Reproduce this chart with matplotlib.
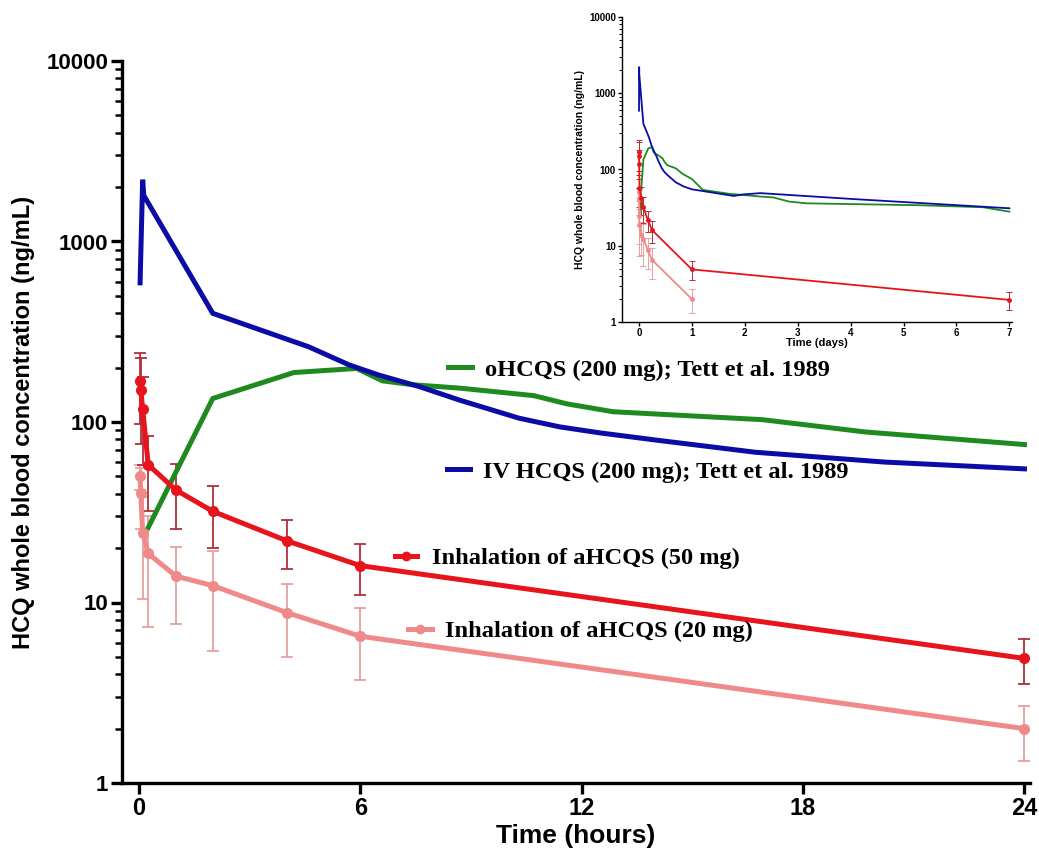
import numpy as np
import matplotlib
matplotlib.use("Agg")
import matplotlib.pyplot as plt
from matplotlib.lines import Line2D
from matplotlib.ticker import LogLocator, NullFormatter, FixedLocator

# ---------------- data (time in hours, concentration in ng/mL) ----------------
iv_t = [0.03, 0.1, 0.13, 2, 4.6, 5.7, 6.5, 7.6, 8.7, 10.3, 11.4, 12.5, 14.1, 16.7, 20.2, 24,
        43, 47, 55, 97, 168]
iv_c = [590, 2200, 1800, 400, 261, 207, 182, 157, 132, 105, 94, 87, 79, 68, 60, 55,
        45, 47, 49, 41, 31]

oral_t = [0.25, 2, 4.2, 5.9, 6.6, 7.4, 8.7, 10.7, 11.6, 12.85, 16.9, 19.7, 24,
          29, 41, 56, 61, 68, 76, 127, 156, 168]
oral_c = [26, 135, 188, 198, 169, 161, 154, 140, 126, 114, 103, 88, 75,
          54, 48, 44, 43, 38, 36, 34, 32, 28]

inh50_t = [0.03, 0.05, 0.1, 0.25, 1, 2, 4, 6, 24, 168]
inh50_c = [169, 151, 118, 58, 42, 32, 22, 16, 4.9, 1.95]
inh50_sd = [72, 75, 60, 26, 16.5, 12, 6.7, 5, 1.35, 0.5]

inh20_t = [0.03, 0.05, 0.1, 0.25, 1, 2, 4, 6, 24]
inh20_c = [50, 40.5, 24.4, 18.7, 14, 12.4, 8.8, 6.5, 2.0]
inh20_sd = [8, 15, 14, 11.4, 6.4, 7, 3.8, 2.8, 0.67]

labels = ["oHCQS (200 mg); Tett et al. 1989",
          "IV HCQS (200 mg); Tett et al. 1989",
          "Inhalation of aHCQS (50 mg)",
          "Inhalation of aHCQS (20 mg)"]

main_xticks = [0, 6, 12, 18, 24]
inset_xticks = [0, 1, 2, 3, 4, 5, 6, 7]

# ---------------- style ----------------
C_IV = "#0b0ba6"
C_OR = "#1f8a1f"
C_50 = "#e8141c"
C_50E = "#b0303a"
C_20 = "#f08a8a"
C_20E = "#e8a0a0"

W, H = 1039, 855
fig = plt.figure(figsize=(W / 100, H / 100), dpi=100)

SANS = ["Liberation Sans", "DejaVu Sans"]
NARROW = ["Liberation Sans Narrow", "Liberation Sans", "DejaVu Sans"]
SERIF = ["Liberation Serif", "DejaVu Serif"]

def fx(px):
    return px / W

def fy(py):
    return 1 - py / H

# ---------------- main axes ----------------
ax = fig.add_axes([fx(122), fy(783), fx(1030) - fx(122), fy(61) - fy(783)])

def upto(t, c, tmax):
    t = np.asarray(t, float); c = np.asarray(c, float)
    m = t <= tmax
    return t[m], c[m]

t, c = upto(oral_t, oral_c, 24)
ax.plot(t, c, color=C_OR, lw=3.6, solid_joinstyle="miter", zorder=3)
t, c = upto(iv_t, iv_c, 24)
ax.plot(t, c, color=C_IV, lw=3.6, solid_joinstyle="miter", zorder=3)

t, c = upto(inh20_t, inh20_c, 24)
sd = np.asarray(inh20_sd)[:len(t)]
ax.errorbar(t, c, yerr=sd, fmt="none", ecolor=C_20E, elinewidth=1.3, capsize=4, capthick=1.3, zorder=2)
ax.plot(t, c, color=C_20, lw=3.6, marker="o", ms=7, zorder=4)

t, c = upto(inh50_t, inh50_c, 24)
sd = np.asarray(inh50_sd)[:len(t)]
ax.errorbar(t, c, yerr=sd, fmt="none", ecolor=C_50E, elinewidth=1.3, capsize=4, capthick=1.3, zorder=2)
ax.plot(t, c, color=C_50, lw=3.6, marker="o", ms=7, zorder=5)

ax.set_yscale("log")
ax.set_ylim(1, 10000)
ax.set_xlim(-0.46, 24.15)
ax.xaxis.set_major_locator(FixedLocator(main_xticks))
ax.set_xticklabels([str(v) for v in main_xticks], fontsize=17, fontweight="bold", family=NARROW)
ax.yaxis.set_minor_locator(LogLocator(base=10, subs=np.arange(2, 10), numticks=50))
ax.yaxis.set_minor_formatter(NullFormatter())
ax.set_yticks([1, 10, 100, 1000, 10000])
ax.set_yticklabels(["1", "10", "100", "1000", "10000"], fontsize=16, fontweight="bold", family=SANS)
for s in ["top", "right"]:
    ax.spines[s].set_visible(False)
for s in ["left", "bottom"]:
    ax.spines[s].set_linewidth(2.4)
ax.tick_params(axis="both", which="major", length=8, width=2.4, direction="out", pad=2)
ax.tick_params(axis="y", which="minor", length=5, width=1.8, direction="out")
ax.set_xlabel("Time (hours)", fontsize=19, fontweight="bold", family=NARROW, labelpad=3)
ax.set_ylabel("HCQ whole blood concentration (ng/mL)", fontsize=17, fontweight="bold", family=SANS, labelpad=8)

# ---------------- labels (legend entries) ----------------
def add_leg(handle, text, x0, y0, hl, htp):
    lg = fig.legend([handle], [text], loc="center left", bbox_to_anchor=(fx(x0), fy(y0)),
                    bbox_transform=fig.transFigure, frameon=False, borderpad=0, borderaxespad=0,
                    handlelength=hl, handletextpad=htp,
                    prop=dict(family=SERIF, weight="bold", size=17.6))
    return lg

add_leg(Line2D([], [], color=C_OR, lw=3.6), labels[0], 448, 370, 0.98, 0.53)
add_leg(Line2D([], [], color=C_IV, lw=3.6), labels[1], 447, 472, 0.94, 0.53)
add_leg(Line2D([], [], color=C_50, lw=3.6, marker="o", ms=6), labels[2], 395, 558, 0.9, 0.61)
add_leg(Line2D([], [], color=C_20, lw=3.6, marker="o", ms=6), labels[3], 408, 631, 0.98, 0.53)

# ---------------- inset (time in days) ----------------
ins = fig.add_axes([fx(622), fy(322), fx(1012) - fx(622), fy(17) - fy(322)])

def days(t):
    return np.asarray(t, float) / 24.0

ins.plot(days(oral_t), oral_c, color=C_OR, lw=1.3, zorder=3)
ins.plot(days(iv_t), iv_c, color=C_IV, lw=1.3, zorder=3)
ins.errorbar(days(inh20_t), inh20_c, yerr=inh20_sd, fmt="none", ecolor=C_20E, elinewidth=0.7,
             capsize=2, capthick=0.7, zorder=2)
ins.plot(days(inh20_t), inh20_c, color=C_20, lw=1.3, marker="o", ms=2.5, zorder=4)
ins.errorbar(days(inh50_t), inh50_c, yerr=inh50_sd, fmt="none", ecolor=C_50E, elinewidth=0.7,
             capsize=2, capthick=0.7, zorder=2)
ins.plot(days(inh50_t), inh50_c, color=C_50, lw=1.3, marker="o", ms=2.5, zorder=5)

ins.set_yscale("log")
ins.set_ylim(1, 10000)
ins.set_xlim(-0.32, 7.05)
ins.xaxis.set_major_locator(FixedLocator(inset_xticks))
ins.set_xticklabels([str(v) for v in inset_xticks], fontsize=7, fontweight="bold", family=SANS)
ins.set_yticks([1, 10, 100, 1000, 10000])
ins.set_yticklabels(["1", "10", "100", "1000", "10000"], fontsize=7, fontweight="bold", family=SANS)
ins.yaxis.set_minor_locator(LogLocator(base=10, subs=np.arange(2, 10), numticks=50))
ins.yaxis.set_minor_formatter(NullFormatter())
for s in ["top", "right"]:
    ins.spines[s].set_visible(False)
for s in ["left", "bottom"]:
    ins.spines[s].set_linewidth(1.0)
ins.tick_params(axis="both", which="major", length=3, width=1.0, pad=1.5)
ins.tick_params(axis="y", which="minor", length=2, width=0.7)
ins.set_xlabel("Time (days)", fontsize=8, fontweight="bold", family=SANS, labelpad=0)
ins.set_ylabel("HCQ whole blood concentration (ng/mL)", fontsize=7.5, fontweight="bold",
               family=SANS, labelpad=3)

fig.savefig("out.png", dpi=100)
